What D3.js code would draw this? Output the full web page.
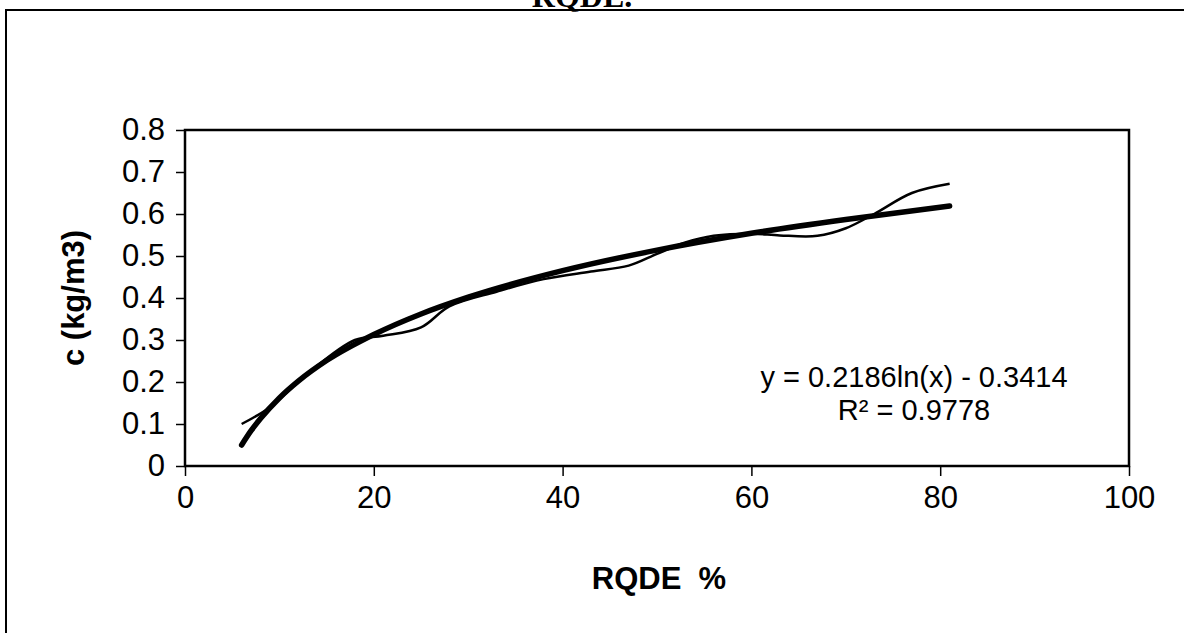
<!DOCTYPE html>
<html>
<head>
<meta charset="utf-8">
<script src="https://cdn.jsdelivr.net/npm/d3@7"></script>
<style>
  body { margin: 0; background: #fff; }
  svg { display: block; }
  text { font-family: Arial, "Liberation Sans", sans-serif; fill: #000; }
</style>
</head>
<body>
<svg width="1184" height="633"></svg>
<script>
//-- data --//
const rqde     = [6, 9, 13, 18, 21, 25, 28, 33, 38, 43, 47, 50, 53, 56, 60, 63, 67, 70, 73, 77, 81];
const cValues  = [0.10, 0.14, 0.22, 0.30, 0.31, 0.33, 0.38, 0.415, 0.445, 0.463, 0.477, 0.505, 0.532, 0.548, 0.553, 0.549, 0.548, 0.566, 0.60, 0.65, 0.672];
const trendX   = [6, 7, 8, 10, 12, 15, 20, 25, 30, 40, 50, 60, 70, 81];
const trendY   = [0.050, 0.084, 0.113, 0.162, 0.202, 0.251, 0.313, 0.362, 0.402, 0.465, 0.514, 0.554, 0.587, 0.619];
const xTicks   = [0, 20, 40, 60, 80, 100];
const yTicks   = [0, 0.1, 0.2, 0.3, 0.4, 0.5, 0.6, 0.7, 0.8];
const eqLines  = ["y = 0.2186ln(x) - 0.3414", "R\u00b2 = 0.9778"];

const margin = {top: 130, right: 55, bottom: 167, left: 185};
const width = 1184;
const height = 633;

const x = d3.scaleLinear()
    .domain([0, 100])
    .range([margin.left, width - margin.right]);

const y = d3.scaleLinear()
    .domain([0, 0.8])
    .range([height - margin.bottom, margin.top]);

const svg = d3.select("svg");

//-- page frame + cut title --//
svg.append("path")
    .attr("d", `M6,${height}V10H${width}`)
    .attr("fill", "none")
    .attr("stroke", "#000")
    .attr("stroke-width", 2);

svg.append("text")
    .attr("x", 582)
    .attr("y", 7)
    .attr("text-anchor", "middle")
    .style("font", "bold 32px 'Liberation Serif', 'Times New Roman', serif")
    .text("RQDE.");

//-- axes --//
const xAxis = g => g
    .attr("transform", `translate(0,${y(0)})`)
    .call(d3.axisBottom(x).tickValues(xTicks).tickSize(10).tickPadding(10).tickFormat(d3.format("d")))
    .call(g => g.select(".domain").remove())
    .call(g => g.selectAll(".tick line").attr("stroke-width", 1.5))
    .call(g => g.selectAll("text").style("font-size", "31px").attr("fill", "#000"));

const yAxis = g => g
    .attr("transform", `translate(${x(0)},0)`)
    .call(d3.axisLeft(y).tickValues(yTicks).tickSize(9).tickPadding(11).tickFormat(d => d === 0 ? "0" : d3.format(".1f")(d)))
    .call(g => g.select(".domain").remove())
    .call(g => g.selectAll(".tick line").attr("stroke-width", 1.5))
    .call(g => g.selectAll("text").style("font-size", "31px").attr("fill", "#000"));

svg.append("g").call(xAxis);
svg.append("g").call(yAxis);

// plot frame
svg.append("rect")
    .attr("x", x(0))
    .attr("y", y(0.8))
    .attr("width", x(100) - x(0))
    .attr("height", y(0) - y(0.8))
    .attr("fill", "none")
    .attr("stroke", "#000")
    .attr("stroke-width", 2.5);

//-- lines --//
const dataLine = d3.line()
    .x((d, i) => x(rqde[i]))
    .y(d => y(d))
    .curve(d3.curveCatmullRom.alpha(0.5));

const trendLine = d3.line()
    .x((d, i) => x(trendX[i]))
    .y(d => y(d))
    .curve(d3.curveMonotoneX);

svg.append("path")
    .attr("d", dataLine(cValues))
    .attr("fill", "none")
    .attr("stroke", "#000")
    .attr("stroke-width", 2.5);

svg.append("path")
    .attr("d", trendLine(trendY))
    .attr("fill", "none")
    .attr("stroke", "#000")
    .attr("stroke-width", 5.5)
    .attr("stroke-linecap", "round");

//-- labels --//
svg.append("text")
    .attr("transform", `translate(84,${(y(0) + y(0.8)) / 2}) rotate(-90)`)
    .attr("text-anchor", "middle")
    .style("font-size", "31px")
    .style("font-weight", "bold")
    .text("c (kg/m3)");

svg.append("text")
    .attr("x", 659)
    .attr("y", 589)
    .attr("text-anchor", "middle")
    .style("font-size", "31px")
    .style("font-weight", "bold")
    .style("white-space", "pre")
    .text("RQDE  %");

svg.append("g")
    .selectAll("text")
    .data(eqLines)
    .join("text")
    .attr("x", 914)
    .attr("y", (d, i) => 387 + i * 33)
    .attr("text-anchor", "middle")
    .style("font-size", "29px")
    .text(d => d);
</script>
</body>
</html>
